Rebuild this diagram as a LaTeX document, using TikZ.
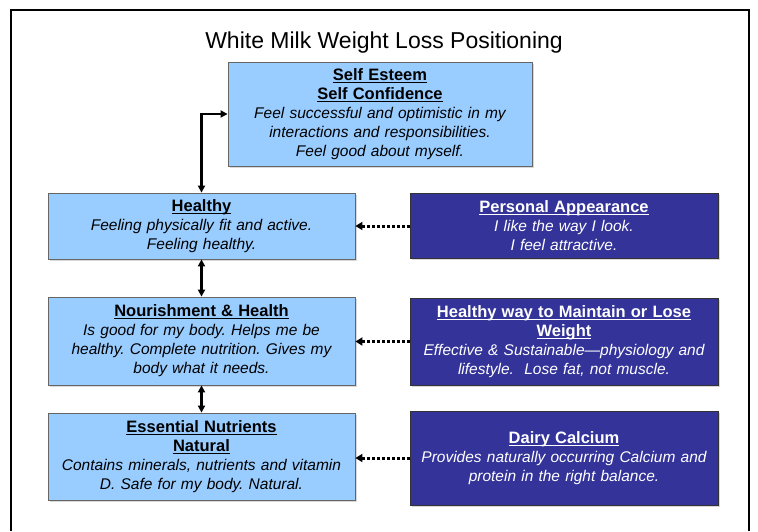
\documentclass[tikz,border=0pt]{standalone}
\usepackage{fontspec}
\setmainfont{Liberation Sans}
\usetikzlibrary{arrows.meta,shadows}
\definecolor{lightbox}{HTML}{99CCFF}
\definecolor{darkbox}{HTML}{333399}
\frenchspacing
\newcommand\myul[1]{\leavevmode\setbox0\hbox{#1}\rlap{\rule[-2.2pt]{\wd0}{0.9pt}}\box0}
\newcommand\hd[1]{\leavevmode{\fontsize{16.5}{19}\selectfont\upshape\bfseries\myul{#1}}}
\tikzset{
  basebox/.style={line width=0.8pt, align=center, inner xsep=4pt, inner ysep=0pt,
    font=\fontsize{15.5}{19}\selectfont\itshape,
    drop shadow={shadow xshift=1.5pt, shadow yshift=-1.5pt, fill=black!30}},
  lbox/.style={basebox, draw=black!60, fill=lightbox, text=black},
  dbox/.style={basebox, draw=black!80, fill=darkbox, text=white},
  link/.style={line width=2.2pt, {Triangle[length=7pt,width=7pt]}-{Triangle[length=7pt,width=7pt]}},
  dotlink/.style={line width=3pt, dash pattern=on 2.5pt off 2.5pt, -{Triangle[length=7pt,width=8pt]}},
  frame/.style={line width=2.5pt}
}
\begin{document}
\begin{tikzpicture}[x=1pt,y=-1pt]
\useasboundingbox (0,0) rectangle (758,531);
\coordinate (f1) at (11,531);
\coordinate (f2) at (11,10);
\coordinate (f3) at (749,10);
\coordinate (f4) at (749,531);
\draw[frame] (f1) -- (f2) -- (f3) -- (f4);

\node (title) at (384,43) {\fontsize{23}{27}\selectfont White Milk Weight Loss Positioning};

\node[lbox, text width=296pt, minimum height=104pt] (se) at (380,114)
  {\hd{Self Esteem}\\\hd{Self Confidence}\\Feel successful and optimistic in my\\interactions and responsibilities.\\Feel good about myself.};

\node[lbox, text width=299pt, minimum height=66pt] (h) at (201.5,226)
  {\hd{Healthy}\\Feeling physically fit and active.\\Feeling healthy.};
\node[dbox, text width=300pt, minimum height=65pt] (pa) at (564,226)
  {\hd{Personal Appearance}\\I like the way I look.\\I feel attractive.};

\node[lbox, text width=299pt, minimum height=88pt] (nh) at (201.5,341)
  {\hd{Nourishment \& Health}\\Is good for my body. Helps me be\\healthy. Complete nutrition. Gives my\\body what it needs.};
\node[dbox, text width=300pt, minimum height=87pt] (hw) at (564,341.5)
  {\hd{Healthy way to Maintain or Lose}\\\hd{Weight}\\Effective \& Sustainable—physiology and\\lifestyle.\ \ Lose fat, not muscle.};

\node[lbox, text width=299pt, minimum height=87pt] (en) at (201.5,456.5)
  {\hd{Essential Nutrients}\\\hd{Natural}\\Contains minerals, nutrients and vitamin\\D. Safe for my body. Natural.};
\node[dbox, text width=300pt, minimum height=94pt] (dc) at (564,458)
  {\hd{Dairy Calcium}\\Provides naturally occurring Calcium and\\protein in the right balance.};

\draw[link] (h.north) |- (se.west);
\draw[link] (h.south) -- (nh.north);
\draw[link] (nh.south) -- (en.north);

\draw[dotlink] (pa.west) -- (pa.west -| h.east);
\draw[dotlink] (hw.west) -- (hw.west -| nh.east);
\draw[dotlink] (dc.west) -- (dc.west -| en.east);
\end{tikzpicture}
\end{document}
